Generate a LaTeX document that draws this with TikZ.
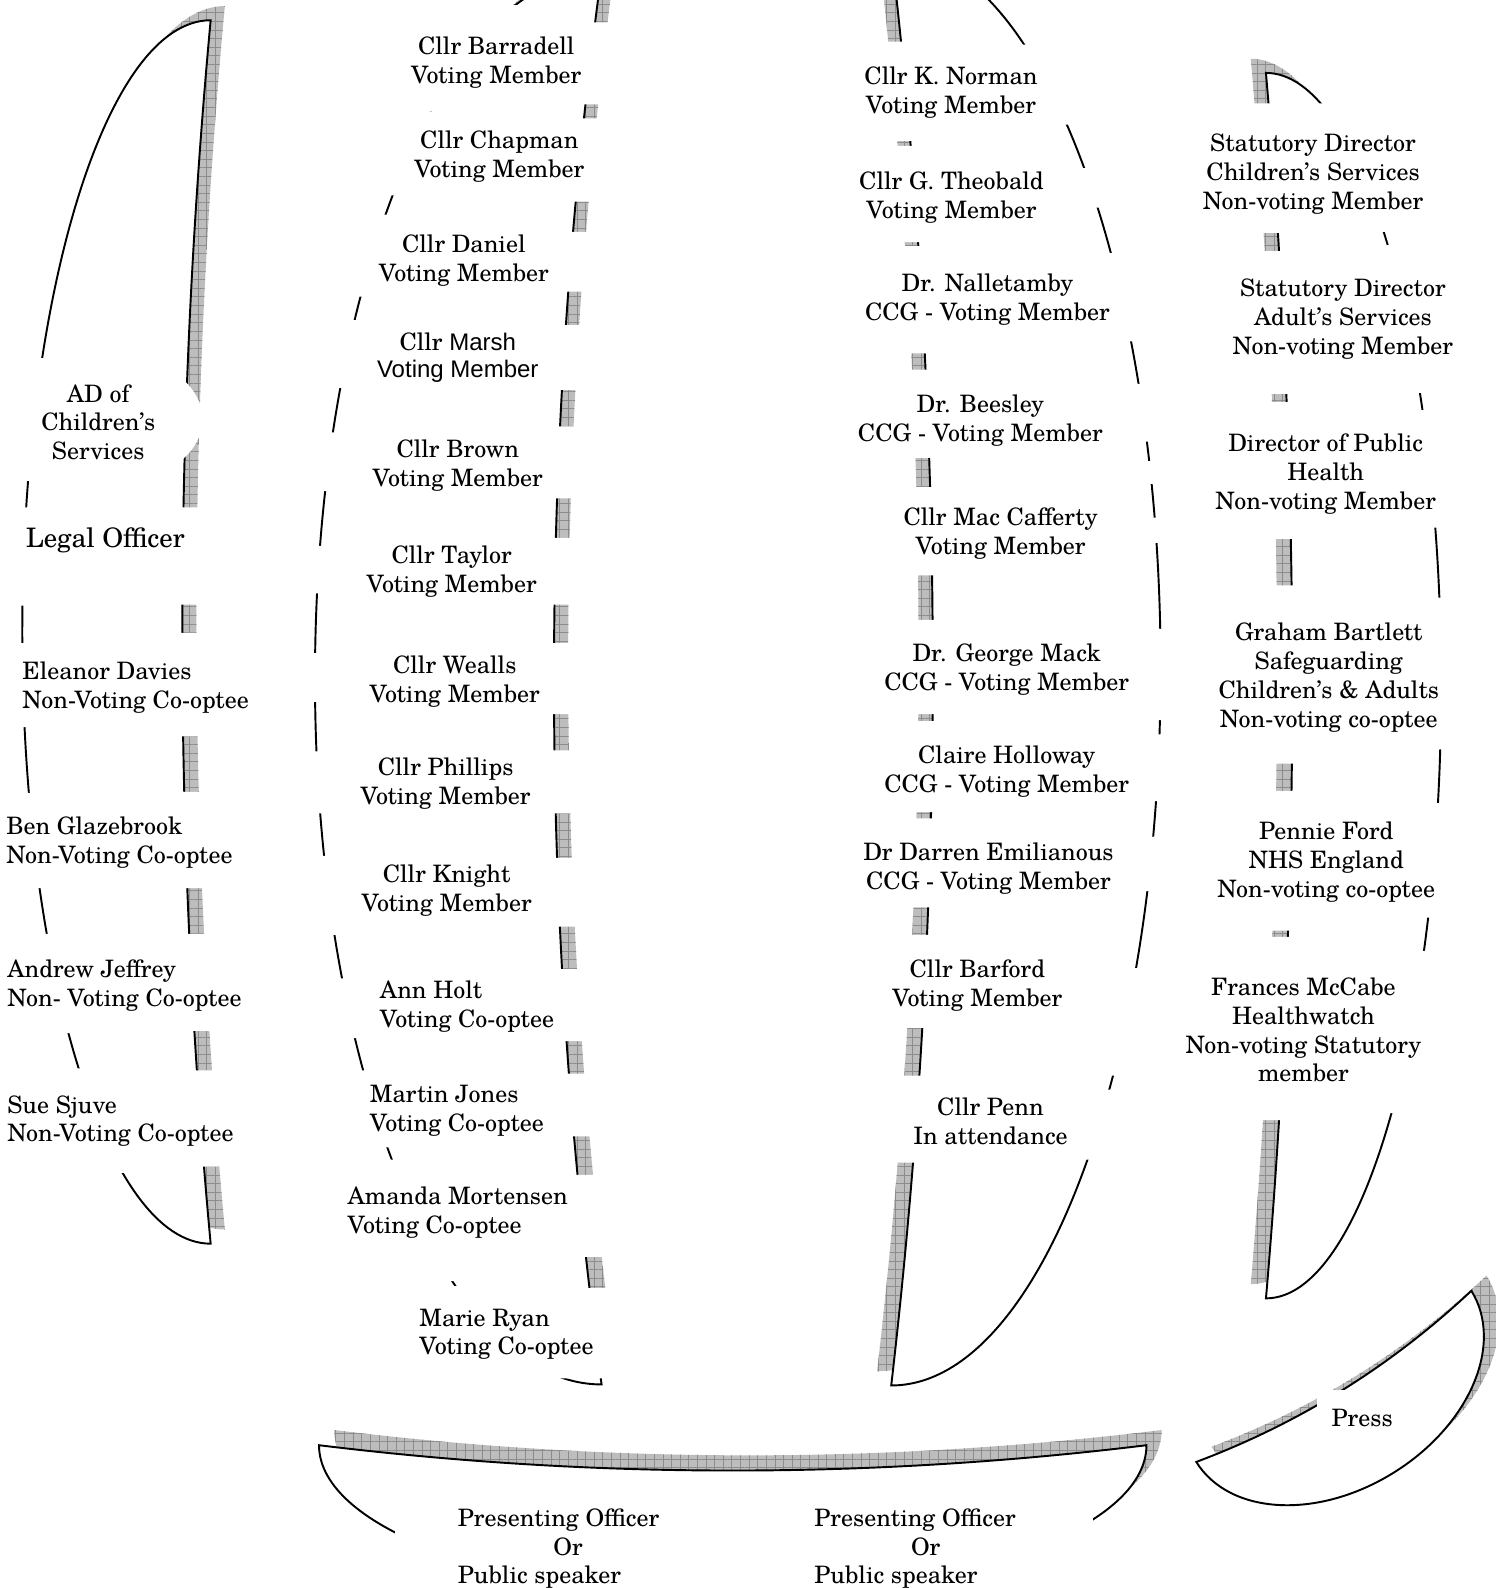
\documentclass[tikz,border=0pt]{standalone}
\usepackage{fontspec}
\setmainfont{TeX Gyre Schola}
\newfontfamily\arialfont{Liberation Sans}
\usetikzlibrary{patterns.meta}

\tikzset{
  tablefill/.style={fill=white, draw=black, line width=1.9pt},
  shadowfill/.style={preaction={fill=black!26}, pattern={Hatch[distance=8.5pt, angle=0, line width=0.5pt]}, pattern color=black!45},
  txt/.style={inner sep=0pt, font=\fontsize{23.7}{28.5}\selectfont, align=center},
  txtl/.style={txt, align=left, anchor=west},
  txtb/.style={inner sep=0pt, font=\fontsize{23.7}{28.5}\selectfont, anchor=base west},
}

% crescents (moon shapes)
\newcommand\crescA[1]{\path[#1] (208,20) arc[start angle=270,end angle=90,x radius=186,y radius=604] .. controls (170.67,825.33) and (170.67,422.67) .. (208,20) -- cycle;}
\newcommand\crescB[1]{\path[#1] (594,-27) arc[start angle=270,end angle=90,x radius=283,y radius=697] .. controls (531.33,902.33) and (531.33,437.67) .. (594,-27) -- cycle;}
\newcommand\crescC[1]{\path[#1] (880,-48) arc[start angle=-90,end angle=90,x radius=266,y radius=708] .. controls (934.67,896) and (934.67,424) .. (880,-48) -- cycle;}
\newcommand\crescD[1]{\path[#1] (1250,72) arc[start angle=-90,end angle=90,x radius=173,y radius=605] .. controls (1284.67,878.67) and (1284.67,475.33) .. (1250,72) -- cycle;}
\newcommand\crescE[1]{\path[#1] (315,1427) arc[start angle=180,end angle=0,x radius=408.5,y radius=149] .. controls (859.67,1460.33) and (587.33,1460.33) .. (315,1427) -- cycle;}
\newcommand\crescF[1]{\path[#1] (1181.2,1443.5) .. controls (1213.9,1496.1) and (1301.0,1500.8) .. (1376.1,1454.1) .. controls (1451.2,1407.4) and (1485.5,1327.1) .. (1452.8,1274.5) .. controls (1373.5,1349.0) and (1283.0,1405.3) .. (1181.2,1443.5) -- cycle;}

% white text-box backgrounds: xl, xm, xr, left y-range, right y-range
\newcommand\wbox[7]{\fill[white] (#1,#4) -- (#2,#4) -- (#2,#6) -- (#3,#6) -- (#3,#7) -- (#2,#7) -- (#2,#5) -- (#1,#5) -- cycle;}

\begin{document}
\begin{tikzpicture}[x=1pt,y=-1pt]
\useasboundingbox (0,0) rectangle (1477,1568);

% shadows
\crescA{shadowfill, shift={(14,-14)}}
\crescB{shadowfill, shift={(14,-14)}}
\crescC{shadowfill, shift={(-14,-14)}}
\crescD{shadowfill, shift={(-15,-14)}}
\crescE{shadowfill, shift={(15,-15)}}
\crescF{shadowfill, shift={(15,-15)}}

% tables
\crescA{tablefill}
\crescB{tablefill}
\crescC{tablefill}
\crescD{tablefill}
\crescE{tablefill}
\crescF{tablefill}

% white boxes behind texts
% column A
\fill[white] (108,414) ellipse[x radius=92, y radius=64];
\fill[white] (8,353) rectangle (110,475);
\wbox{0}{150}{240}{501}{598}{501}{597}
\wbox{0}{150}{240}{635}{718}{625}{727}
\wbox{0}{150}{240}{783}{877}{782}{877}
\wbox{0}{150}{240}{922}{1020}{922}{1018}
\wbox{0}{150}{240}{1055}{1158}{1057}{1152}
% column B
\wbox{290}{535}{625}{5}{110}{22}{103}
\wbox{290}{535}{625}{110}{193}{117}{199}
\wbox{290}{460}{625}{212}{293}{229}{288}
\wbox{290}{460}{625}{316}{383}{321}{385}
\wbox{290}{460}{625}{427}{485}{421}{492}
\wbox{290}{460}{625}{539}{586}{531}{597}
\wbox{290}{460}{625}{645}{693}{635}{705}
\wbox{290}{460}{625}{742}{803}{741}{803}
\wbox{290}{460}{625}{845}{923}{847}{915}
\wbox{290}{460}{625}{966}{1025}{957}{1028}
\wbox{290}{460}{625}{1057}{1133}{1060}{1122}
\wbox{290}{460}{625}{1145}{1265}{1160}{1241}
\wbox{290}{460}{625}{1270}{1361}{1272}{1361}
% column C
\wbox{850}{950}{1158}{41}{139}{44}{123}
\wbox{850}{1000}{1158}{144}{239}{166}{205}
\wbox{850}{1000}{1158}{243}{349}{250}{337}
\wbox{850}{1000}{1158}{365}{452}{379}{436}
\wbox{850}{1000}{1158}{481}{568}{511}{536}
\fill[white] (1000,455) rectangle (1158,478);
\wbox{850}{1000}{1158}{612}{705}{621}{711}
\wbox{850}{1000}{1158}{712}{802}{725}{791}
\wbox{850}{1000}{1158}{808}{896}{826}{880}
\wbox{850}{1000}{1158}{923}{1015}{956}{1062}
\wbox{850}{1000}{1158}{1062}{1148}{1076}{1145}
% column D
\wbox{1160}{1340}{1477}{102}{230}{99}{229}
\wbox{1160}{1340}{1477}{248}{389}{242}{388}
\wbox{1160}{1340}{1477}{397}{532}{405}{521}
\wbox{1160}{1340}{1477}{578}{754}{590}{740}
\wbox{1160}{1340}{1477}{781}{919}{793}{906}
\wbox{1160}{1340}{1477}{925}{1106}{939}{1099}
% bottom and press
\fill[white] (390,1478) rectangle (1079,1568);
\fill[white] (1300,1372) rectangle (1402,1432);

% texts column A
\node[txt] (ad) at (97,417) {AD of\\Children's\\Services};
\node[txt, font=\fontsize{26.5}{31}\selectfont] (legal) at (104,534) {Legal Officer};
\node[txtl] (eleanor) at (22,679) {Eleanor Davies\\Non-Voting Co-optee};
\node[txtl] (ben) at (6,832) {Ben Glazebrook\\Non-Voting Co-optee};
\node[txtl] (andrew) at (7,973.5) {Andrew Jeffrey\\Non- Voting Co-optee};
\node[txtl] (sue) at (7,1107) {Sue Sjuve\\Non-Voting Co-optee};

% column B
\node[txt] (barradell) at (490,61.5) {Cllr Barradell\\Voting Member};
\node[txt] (chapman) at (493,154.5) {Cllr Chapman\\Voting Member};
\node[txt] (daniel) at (458,257) {Cllr Daniel\\Voting Member};
\node[txt, font=\fontsize{23.7}{26.5}\selectfont] (marsh) at (452,353) {Cllr {\arialfont Marsh}\\{\arialfont Voting Member}};
\node[txt] (brown) at (452,459.5) {Cllr Brown\\Voting Member};
\node[txt] (taylor) at (446,564) {Cllr Taylor\\Voting Member};
\node[txt] (wealls) at (449,673) {Cllr Wealls\\Voting Member};
\node[txt] (phillips) at (440,774) {Cllr Phillips\\Voting Member};
\node[txt] (knight) at (441,879) {Cllr Knight\\Voting Member};
\node[txtl] (holt) at (375,994) {Ann Holt\\Voting Co-optee};
\node[txtl] (jones) at (365,1096.5) {Martin Jones\\Voting Co-optee};
\node[txtl] (mortensen) at (343,1197.5) {Amanda Mortensen\\Voting Co-optee};
\node[txtl] (ryan) at (414,1317.5) {Marie Ryan\\Voting Co-optee};

% column C
\node[txt] (norman) at (939,91.5) {Cllr K. Norman\\Voting Member};
\node[txt] (theobald) at (939.5,195.5) {Cllr G. Theobald\\Voting Member};
\node[txt] (nalletamby) at (975,295.5) {Dr. Nalletamby\\CCG - Voting Member};
\node[txt] (beesley) at (968,415.5) {Dr. Beesley\\CCG - Voting Member};
\node[txt] (maccafferty) at (988,527) {Cllr Mac Cafferty\\Voting Member};
\node[txt] (mack) at (994,661) {Dr. George Mack\\CCG - Voting Member};
\node[txt] (holloway) at (994,761.5) {Claire Holloway\\CCG - Voting Member};
\node[txt] (emilianous) at (976,858) {Dr Darren Emilianous\\CCG - Voting Member};
\node[txt] (barford) at (965,973) {Cllr Barford\\Voting Member};
\node[txt] (penn) at (978,1107) {Cllr Penn\\In attendance};

% column D
\node[txt] (sdchildren) at (1296.5,172) {Statutory Director\\Children's Services\\Non-voting Member};
\node[txt] (sdadults) at (1326,315) {Statutory Director\\Adult's Services\\Non-voting Member};
\node[txt] (publichealth) at (1309,468) {Director of Public\\Health\\Non-voting Member};
\node[txt] (bartlett) at (1312,669) {Graham Bartlett\\Safeguarding\\Children's \& Adults\\Non-voting co-optee};
\node[txt] (ford) at (1309.5,851.3) {Pennie Ford\\NHS England\\Non-voting co-optee};
\node[txt] (mccabe) at (1287,1017) {Frances McCabe\\Healthwatch\\Non-voting Statutory\\member};

% press and presenting
\node[txt] (press) at (1345,1400) {Press};
\node[txtb] (pres1a) at (452,1507.5) {Presenting Officer};
\node[txtb, anchor=base] (pres1b) at (561,1535.5) {Or};
\node[txtb] (pres1c) at (452,1563.5) {Public speaker};
\node[txtb] (pres2a) at (804,1507.5) {Presenting Officer};
\node[txtb, anchor=base] (pres2b) at (914,1535.5) {Or};
\node[txtb] (pres2c) at (804,1563.5) {Public speaker};
\end{tikzpicture}
\end{document}
